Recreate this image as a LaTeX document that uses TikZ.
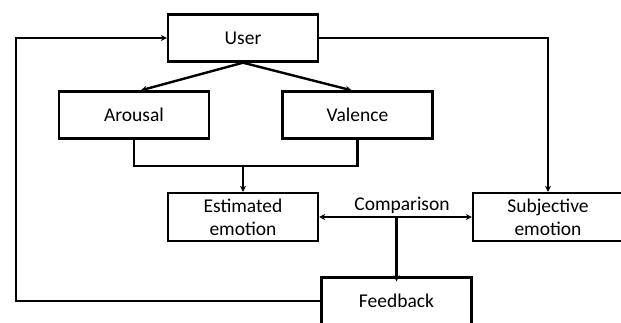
\documentclass[tikz,border=0pt]{standalone}
\usepackage{fontspec}
\setmainfont{Carlito}
\usetikzlibrary{arrows.meta,calc}
\begin{document}
\begin{tikzpicture}[x=1pt,y=-1pt,
  box/.style={draw,line width=2.4pt,minimum width=150pt,minimum height=47pt,inner sep=0pt,align=center,font=\fontsize{19.5}{23}\selectfont},
  conn/.style={line width=2.4pt},
  arr/.style={conn,-{Stealth[length=6pt,width=6pt]}},
  lbl/.style={font=\fontsize{19.5}{23}\selectfont,inner sep=0pt}]
\useasboundingbox (0,0) rectangle (621,322);
\node[box] (user) at (243,38) {User};
\node[box] (arousal) at (134,115) {Arousal};
\node[box] (valence) at (357.5,115) {Valence};
\node[box,minimum height=48pt] (est) at (243,217) {Estimated\\emotion};
\node[box,minimum height=48pt] (subj) at (548,217) {Subjective\\emotion};
\node[box] (feed) at (396.5,301) {Feedback};
\node[lbl] (comp) at (402,205) {Comparison};
\coordinate (merge) at (243,166);
\coordinate (loop) at (16,301);
\draw[arr] (user.south) -- ([xshift=7pt]arousal.north);
\draw[arr] (user.south) -- ([xshift=-6pt]valence.north);
\draw[conn] (arousal.south) |- (valence.south |- merge) -- (valence.south);
\draw[arr] (merge) -- (est.north);
\draw[arr] (user.east) -| (subj.north);
\draw[conn,{Stealth[length=6pt,width=6pt]}-{Stealth[length=6pt,width=6pt]}] (est.east) -- (subj.west);
\draw[arr] (feed.north |- est.east) -- ([yshift=-5pt]feed.north);
\draw[arr] (feed.west) -- (loop) |- (user.west);
\end{tikzpicture}
\end{document}
